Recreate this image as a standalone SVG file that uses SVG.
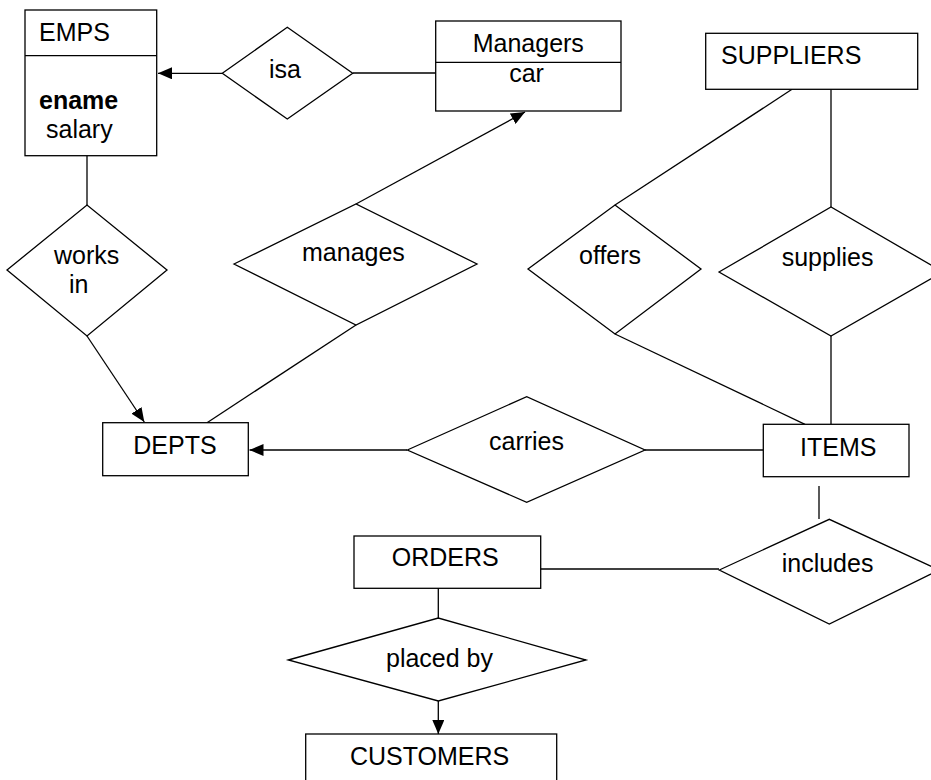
<svg xmlns="http://www.w3.org/2000/svg" width="931" height="780" viewBox="0 0 931 780">
<defs>
<style>
.box{fill:#fff;stroke:#000;stroke-width:1.3}
.dia{fill:#fff;stroke:#000;stroke-width:1.3}
.ln{fill:none;stroke:#000;stroke-width:1.3}
.arr{fill:none;stroke:#000;stroke-width:1.3;marker-end:url(#ah)}
text{font-family:"Liberation Sans",Arial,sans-serif;font-size:25px;fill:#000}
.b{font-weight:bold}
</style>
<marker id="ah" markerWidth="14" markerHeight="12" refX="14" refY="6" orient="auto" markerUnits="userSpaceOnUse">
<path d="M0,0 L14,6 L0,12 Z" fill="#000"/>
</marker>
</defs>
<rect width="931" height="780" fill="#fff"/>
<g id="connectors">
<line class="arr" x1="222" y1="73.3" x2="158" y2="73.3"/>
<line class="ln" x1="353" y1="73" x2="436" y2="73"/>
<line class="ln" x1="87" y1="155.7" x2="87" y2="205"/>
<line class="arr" x1="87" y1="336" x2="144.3" y2="422"/>
<line class="arr" x1="356" y1="204" x2="525" y2="112"/>
<line class="ln" x1="356" y1="325" x2="207" y2="422.7"/>
<line class="arr" x1="407" y1="450" x2="249.5" y2="450"/>
<line class="ln" x1="645" y1="450" x2="763" y2="450"/>
<line class="ln" x1="792" y1="89.3" x2="615" y2="205"/>
<line class="ln" x1="831" y1="89.3" x2="831" y2="207"/>
<line class="ln" x1="615" y1="334" x2="805" y2="424.3"/>
<line class="ln" x1="831" y1="336" x2="831" y2="424.3"/>
<line class="ln" x1="819" y1="486" x2="819" y2="519"/>
<line class="ln" x1="537" y1="569" x2="719" y2="569"/>
<line class="ln" x1="438.3" y1="586" x2="438.3" y2="618"/>
<line class="arr" x1="438.3" y1="701" x2="438.3" y2="734"/>
</g>
<g id="EMPS">
<rect class="box" x="25" y="10" width="131.7" height="145.7"/>
<line class="ln" x1="25" y1="55.7" x2="156.7" y2="55.7"/>
<text x="39" y="40.7">EMPS</text>
<text class="b" x="39" y="109">ename</text>
<text x="46" y="137.7">salary</text>
</g>
<g id="isa">
<polygon class="dia" points="222.3,73.3 287.3,27.3 352.7,73.3 287.3,119"/>
<text x="269" y="78.3">isa</text>
</g>
<g id="Managers">
<rect class="box" x="435.7" y="21" width="185.3" height="90"/>
<line class="ln" x1="435.7" y1="62.3" x2="621" y2="62.3"/>
<text x="528.3" y="52.3" text-anchor="middle">Managers</text>
<text x="526.5" y="81.7" text-anchor="middle">car</text>
</g>
<g id="SUPPLIERS">
<rect class="box" x="705.7" y="33.3" width="212" height="56"/>
<text x="721" y="64">SUPPLIERS</text>
</g>
<g id="works_in">
<polygon class="dia" points="7,270 87,205 167,270 87,336"/>
<text x="54" y="264">works</text>
<text x="69" y="293.3">in</text>
</g>
<g id="manages">
<polygon class="dia" points="234,264 356,204 477,264 356,325"/>
<text x="302" y="260.7">manages</text>
</g>
<g id="offers">
<polygon class="dia" points="528,269 615,205 701,269 615,334"/>
<text x="579" y="264">offers</text>
</g>
<g id="supplies">
<polygon class="dia" points="719,272 831,207 943,272 831,336"/>
<text x="781.7" y="266">supplies</text>
</g>
<g id="DEPTS">
<rect class="box" x="102.7" y="422.7" width="145.6" height="53"/>
<text x="133.3" y="454.3">DEPTS</text>
</g>
<g id="carries">
<polygon class="dia" points="407.3,450 526.7,396.7 645,450 526.7,502.3"/>
<text x="489" y="450">carries</text>
</g>
<g id="ITEMS">
<rect class="box" x="763.3" y="424.3" width="145.7" height="52.4"/>
<text x="800" y="455.7">ITEMS</text>
</g>
<g id="includes">
<polygon class="dia" points="719.3,570 829.3,519.3 939.3,570 829.3,624"/>
<text x="781.7" y="571.7">includes</text>
</g>
<g id="ORDERS">
<rect class="box" x="354" y="536" width="186.7" height="52.3"/>
<text x="391.7" y="565.7">ORDERS</text>
</g>
<g id="placed_by">
<polygon class="dia" points="288.3,660 438.3,618 586,660 438.3,701"/>
<text x="386" y="666.7">placed by</text>
</g>
<g id="CUSTOMERS">
<rect class="box" x="305.7" y="734" width="251" height="60"/>
<text x="350" y="765">CUSTOMERS</text>
</g>
</svg>
